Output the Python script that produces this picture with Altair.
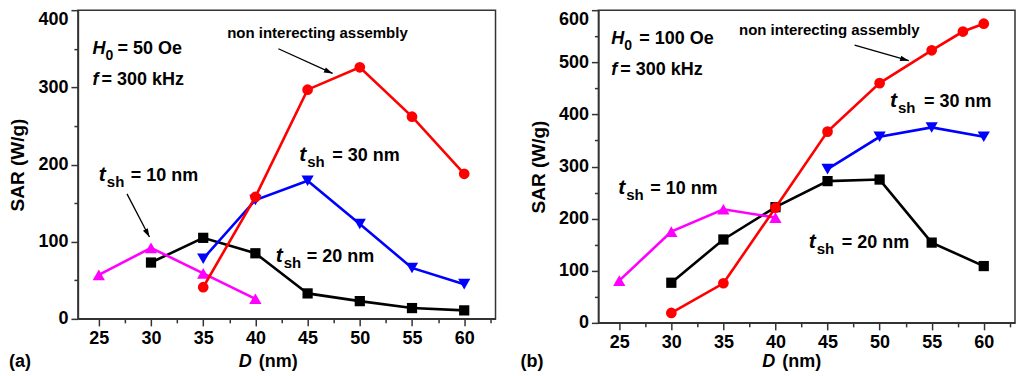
import altair as alt
import pandas as pd

FONT = "Liberation Sans"

# ---------------- data ----------------
# Panel (a): H0 = 50 Oe, f = 300 kHz
A_D_10 = [25, 30, 35, 40]
A_SAR_10 = [57, 92, 59, 26]
A_D_20 = [30, 35, 40, 45, 50, 55, 60]
A_SAR_20 = [73, 105, 85, 33, 23, 14, 11]
A_D_30 = [35, 40, 45, 50, 55, 60]
A_SAR_30 = [78, 154, 179, 123, 66, 45]
A_D_NI = [35, 40, 45, 50, 55, 60]
A_SAR_NI = [41, 158, 297, 326, 262, 188]

# Panel (b): H0 = 100 Oe, f = 300 kHz
B_D_10 = [25, 30, 35, 40]
B_SAR_10 = [81, 175, 218, 202]
B_D_20 = [30, 35, 40, 45, 50, 55, 60]
B_SAR_20 = [77, 160, 222, 272, 275, 154, 109]
B_D_30 = [45, 50, 55, 60]
B_SAR_30 = [295, 357, 375, 357]
B_D_NI = [30, 35, 40, 45, 50, 55, 58, 60]
B_SAR_NI = [19, 76, 221, 367, 460, 523, 559, 574]

X_TICKS = [25 + 2.5 * i for i in range(16)]
A_Y_TICKS = list(range(0, 401, 50))
B_Y_TICKS = list(range(0, 601, 50))

COLORS = {"10": "#FF00FF", "20": "#000000", "30": "#0000FF", "NI": "#FF0000"}
SHAPES = {"10": "triangle-up", "20": "square", "30": "triangle-down", "NI": "circle"}
SIZES = {"10": 150, "20": 105, "30": 150, "NI": 115}
ARROW = "M0,0L-0.32,1L0.32,1Z"


def encs(ymax, yticks):
    x_axis = alt.Axis(
        values=X_TICKS,
        labelExpr="datum.value % 5 === 0 ? datum.label : ''",
        tickSize={"condition": {"test": "datum.value % 5 === 0", "value": 7}, "value": 4},
        labelPadding=4,
        title=None,
        grid=False,
    )
    y_axis = alt.Axis(
        values=yticks,
        labelExpr="datum.value % 100 === 0 ? datum.label : ''",
        tickSize={"condition": {"test": "datum.value % 100 === 0", "value": 7}, "value": 4},
        labelBaseline={"condition": {"test": f"datum.value === {ymax}", "value": "top"}, "value": "middle"},
        labelPadding=3,
        title="SAR (W/g)",
        titleFontSize=19,
        titleFontWeight="bold",
        titlePadding=10,
        grid=False,
    )
    xe = alt.X("D:Q", scale=alt.Scale(domain=[23, 63], nice=False, zero=False), axis=x_axis)
    ye = alt.Y("SAR:Q", scale=alt.Scale(domain=[0, ymax], nice=False), axis=y_axis)
    return xe, ye


def series(D, S, key, xe, ye):
    df = pd.DataFrame({"D": D, "SAR": S})
    base = alt.Chart(df).encode(x=xe, y=ye)
    line = base.mark_line(color=COLORS[key], strokeWidth=2.6)
    pts = base.mark_point(shape=SHAPES[key], filled=True, size=SIZES[key], color=COLORS[key], opacity=1)
    return [line, pts]


def txt(D, S, text, xe, ye, size=18, italic=False, dx=0, dy=0):
    df = pd.DataFrame({"D": [D], "SAR": [S]})
    return alt.Chart(df).mark_text(
        text=text, font=FONT, fontSize=size, fontWeight="bold",
        fontStyle="italic" if italic else "normal",
        align="left", baseline="alphabetic", dx=dx, dy=dy, color="black",
    ).encode(x=xe, y=ye)


def ptxt(px, py, text, size=18, italic=False):
    return alt.Chart(pd.DataFrame({"v": [0]})).mark_text(
        text=text, font=FONT, fontSize=size, fontWeight="bold",
        fontStyle="italic" if italic else "normal",
        align="left", baseline="alphabetic", color="black",
    ).encode(x=alt.value(px), y=alt.value(py))


def arrow(D1, S1, D2, S2, angle, xe, ye):
    df = pd.DataFrame({"D": [D1], "SAR": [S1], "D2": [D2], "SAR2": [S2]})
    rule = alt.Chart(df).mark_rule(color="black", strokeWidth=1.3).encode(
        x=xe, y=ye, x2="D2:Q", y2="SAR2:Q")
    head = alt.Chart(pd.DataFrame({"D": [D2], "SAR": [S2]})).mark_point(
        shape=ARROW, filled=True, size=300, color="black", opacity=1, angle=angle
    ).encode(x=xe, y=ye)
    return [rule, head]


def tsh(D, S, rest, xe, ye, eq_dx):
    return [
        txt(D, S, "t", xe, ye, size=21, italic=True),
        txt(D, S, "sh", xe, ye, size=15, dx=8, dy=6),
        txt(D, S, rest, xe, ye, size=18, dx=eq_dx),
    ]


def h0(D, S, rest, xe, ye, eq_dx):
    return [
        txt(D, S, "H", xe, ye, size=18, italic=True),
        txt(D, S, "0", xe, ye, size=14, dx=13, dy=6),
        txt(D, S, rest, xe, ye, size=18, dx=eq_dx),
    ]


def fline(D, S, xe, ye):
    return [
        txt(D, S, "f", xe, ye, size=18, italic=True),
        txt(D, S, "= 300 kHz", xe, ye, size=18, dx=9),
    ]


# ---------------- panel (a) ----------------
xa, ya = encs(400, A_Y_TICKS)
layers_a = []
layers_a += series(A_D_20, A_SAR_20, "20", xa, ya)
layers_a += series(A_D_10, A_SAR_10, "10", xa, ya)
layers_a += series(A_D_30, A_SAR_30, "30", xa, ya)
layers_a += series(A_D_NI, A_SAR_NI, "NI", xa, ya)
layers_a += h0(24.4, 343, "= 50 Oe", xa, ya, 25)
layers_a += fline(24.4, 303, xa, ya)
layers_a.append(txt(37.3, 364, "non interecting assembly", xa, ya, size=15))
layers_a += arrow(42.2, 350, 47.4, 318, 114, xa, ya)
layers_a += tsh(44.2, 204, "= 30 nm", xa, ya, 33)
layers_a += tsh(25.0, 179, "= 10 nm", xa, ya, 32)
layers_a += arrow(27.7, 162, 29.85, 106, 152, xa, ya)
layers_a += tsh(41.95, 74, "= 20 nm", xa, ya, 31)
layers_a.append(ptxt(-69, 357, "(a)"))
layers_a.append(ptxt(161, 357, "D", italic=True))
layers_a.append(ptxt(181, 357, "(nm)"))
panel_a = alt.layer(*layers_a).properties(width=418, height=309)

# ---------------- panel (b) ----------------
xb, yb = encs(600, B_Y_TICKS)
layers_b = []
layers_b += series(B_D_20, B_SAR_20, "20", xb, yb)
layers_b += series(B_D_10, B_SAR_10, "10", xb, yb)
layers_b += series(B_D_30, B_SAR_30, "30", xb, yb)
layers_b += series(B_D_NI, B_SAR_NI, "NI", xb, yb)
layers_b += h0(24.23, 535, "= 100 Oe", xb, yb, 28)
layers_b += fline(24.23, 476, xb, yb)
layers_b.append(txt(36.5, 552, "non interecting assembly", xb, yb, size=15))
layers_b += arrow(47.6, 533, 52.8, 503, 106, xb, yb)
layers_b += tsh(51.0, 415, "= 30 nm", xb, yb, 34)
layers_b += tsh(24.9, 248, "= 10 nm", xb, yb, 32)
layers_b += tsh(43.2, 143, "= 20 nm", xb, yb, 33)
layers_b.append(ptxt(-78, 357, "(b)"))
layers_b.append(ptxt(164, 357, "D", italic=True))
layers_b.append(ptxt(184, 357, "(nm)"))
panel_b = alt.layer(*layers_b).properties(width=417, height=313)

chart = (
    alt.hconcat(panel_a, panel_b, spacing=103, bounds="flush")
    .properties(padding=0, background="white")
    .configure_view(stroke="#333333", strokeWidth=1.5)
    .configure_axis(
        domainColor="#333333", domainWidth=1.5, tickColor="#333333", tickWidth=1.5,
        labelFont=FONT, labelFontSize=18, labelFontWeight="bold", labelColor="black",
        titleFont=FONT, titleColor="black",
    )
)

chart.save("out.html", embed_options={"renderer": "svg", "actions": False})
